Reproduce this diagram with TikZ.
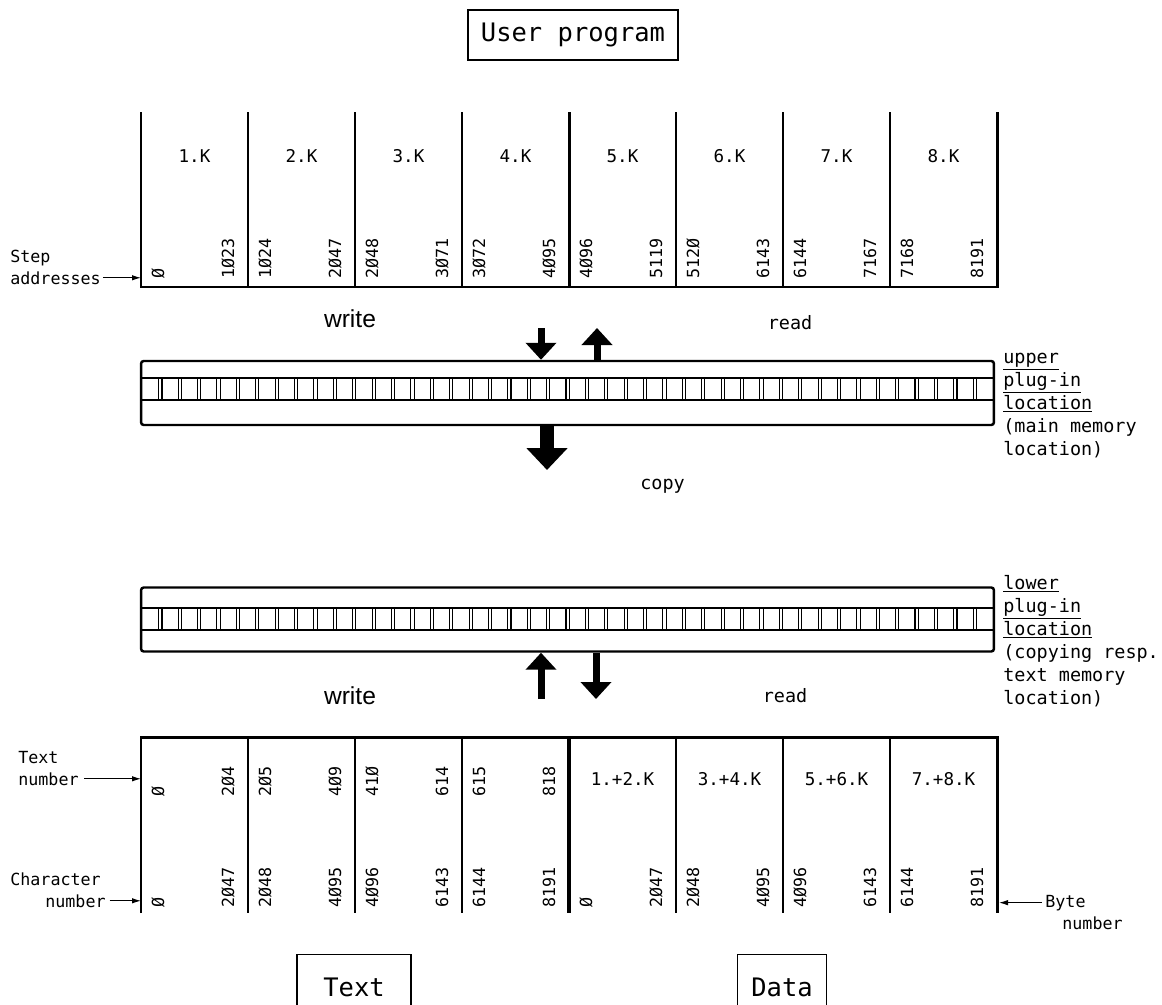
\documentclass[tikz,border=0pt]{standalone}
\usepackage{fontspec}
\setmainfont{Liberation Sans}
\newfontfamily\monofam{DejaVu Sans Mono}
\usetikzlibrary{arrows.meta,positioning}

\begin{document}
\begin{tikzpicture}[x=0.02cm,y=-0.02cm,
    every node/.style={inner sep=0pt},
    tiny/.style={font=\monofam\fontsize{9.5}{12}\selectfont},
    blk/.style={font=\monofam\fontsize{10}{12}\selectfont},
    side/.style={font=\monofam\fontsize{10.5}{13}\selectfont, anchor=base west},
    addr/.style={tiny, rotate=90, anchor=west},
    frame/.style={draw, line width=0.8pt, font=\monofam\fontsize{14.5}{17}\selectfont},
    sans/.style={font=\fontsize{14}{16}\selectfont, anchor=base},
    wall/.style={line width=1.7pt},
    divider/.style={line width=1.3pt},
    strip/.style={draw, line width=1.4pt, rounded corners=1.5pt, minimum width=17.06cm, minimum height=1.28cm},
    pin/.style={line width=0.6pt},
    fat/.style={line width=1.4mm, -{Triangle[width=6mm,length=3.4mm]}},
    fatter/.style={line width=2.8mm, -{Triangle[width=8mm,length=4.4mm]}},
    pointer/.style={line width=0.6pt, -{Latex[length=1.8mm,width=1.1mm]}}
]
\useasboundingbox (0,0) rectangle (1162,1004);
\coordinate (leftedge) at (141,0);
\coordinate (rightedge) at (999,0);

% User program
\node[frame, minimum width=4.2cm, minimum height=1cm] (user) at (573,35) {User program};

% Upper table: 8 blocks of 1K steps
\foreach \x in {248,355,462,676,783,890} \draw[divider] (\x,112) -- (\x,287);
\draw[wall] (141,112) -- (141,287) -- (997,287) -- (997,112);
\draw[wall] (569,112) -- (569,287);
\foreach \k in {1,...,8} \node[blk] (kb\k) at ({141+107*(\k-0.5)},156) {\k.K};
\foreach \lo/\hi [count=\k] in {Ø/1Ø23,1Ø24/2Ø47,2Ø48/3Ø71,3Ø72/4Ø95,4Ø96/5119,512Ø/6143,6144/7167,7168/8191} {
  \node[addr] (sa\k) at ({141+107*(\k-1)+17},279) {\lo};
  \node[addr] (se\k) at ({141+107*\k-20},279) {\hi};
}

% Step addresses
\node[tiny, anchor=base west] (step1) at (10,262) {Step};
\node[tiny, anchor=base west] (step2) at (10,284) {addresses};
\draw[pointer] ([xshift=1pt]step2.east) -- (step2.east -| leftedge);

% write / read into the upper location
\node[sans] (wr1) at (350,327) {write};
\node[side, anchor=base] (rd1) at (790,329) {read};
\coordinate (wrin) at (541,328);
\coordinate (rdout) at (597,328);

% Upper plug-in location
\node[strip] (upper) at (567.5,393) {};
\draw[pin] (141,378) -- (994,378) (141,400) -- (994,400);
\foreach \c in {1,...,43} \draw[pin] ({141+19.39*\c-1.6},378) -- +(0,22) ({141+19.39*\c+1.6},378) -- +(0,22);
\draw[fat] (wrin) -- (wrin |- upper.north);
\draw[fat] (rdout |- upper.north) -- (rdout);
\foreach \t [count=\n] in {\underline{upper},\underline{plug-in},\underline{location},{(main memory},{location)}}
  \node[side] (ulab\n) at (1003,{340+23*\n}) {\t};

% copy
\coordinate (cp) at (547,470);
\draw[fatter] (upper.south -| cp) -- (cp);
\node[side] (copy) at (640,489) {copy};

% Lower plug-in location
\node[strip] (lower) at (567.5,619.5) {};
\draw[pin] (141,608) -- (994,608) (141,630) -- (994,630);
\foreach \c in {1,...,43} \draw[pin] ({141+19.39*\c-1.6},608) -- +(0,22) ({141+19.39*\c+1.6},608) -- +(0,22);
\foreach \t [count=\n] in {\underline{lower},\underline{plug-in},\underline{location},{(copying resp.},{text memory},{location)}}
  \node[side] (llab\n) at (1003,{566+23*\n}) {\t};

% write / read out of the lower location
\coordinate (wrout) at (541,699);
\coordinate (rdin) at (596,699);
\draw[fat] (wrout) -- (wrout |- lower.south);
\draw[fat] (rdin |- lower.south) -- (rdin);
\node[sans] (wr2) at (350,704) {write};
\node[side, anchor=base] (rd2) at (785,702) {read};

% Lower table: text and data memory
\draw[wall] (141,913) -- (141,737) -- (997,737) -- (997,913);
\draw[line width=2.8pt] (569,737) -- (569,913);
\foreach \x in {248,355,462,676,783,890} \draw[divider] (\x,737) -- (\x,913);
\foreach \lo/\hi [count=\k] in {Ø/2Ø4,2Ø5/4Ø9,41Ø/614,615/818} {
  \node[addr] (ta\k) at ({141+107*(\k-1)+17},797) {\lo};
  \node[addr] (te\k) at ({141+107*\k-20},797) {\hi};
}
\foreach \a/\b [count=\k] in {1/2,3/4,5/6,7/8} \node[blk] (db\k) at ({569+107*(\k-0.5)},779) {\a.+\b.K};
\foreach \lo/\hi [count=\k] in {Ø/2Ø47,2Ø48/4Ø95,4Ø96/6143,6144/8191,Ø/2Ø47,2Ø48/4Ø95,4Ø96/6143,6144/8191} {
  \node[addr] (ca\k) at ({141+107*(\k-1)+17},908) {\lo};
  \node[addr] (ce\k) at ({141+107*\k-20},908) {\hi};
}

% Text number / Character number / Byte number
\node[tiny, anchor=base west] (txt1) at (18,763) {Text};
\node[tiny, anchor=base west] (txt2) at (18,785) {number};
\draw[pointer] ([xshift=3pt]txt2.east) -- (txt2.east -| leftedge);
\node[tiny, anchor=base west] (chr1) at (10,885) {Character};
\node[tiny, anchor=base west] (chr2) at (45,907) {number};
\draw[pointer] ([xshift=2pt]chr2.east) -- (chr2.east -| leftedge);
\node[tiny, anchor=base west] (byte1) at (1045,907) {Byte};
\node[tiny, anchor=base west] (byte2) at (1062,929) {number};
\draw[pointer] ([xshift=-2pt]byte1.west) -- (byte1.west -| rightedge);

% Text and Data
\node[frame, minimum width=2.28cm, minimum height=1.3cm] (textbox) at (354,987) {Text};
\node[frame, minimum width=1.78cm, minimum height=1.3cm] (databox) at (782,987) {Data};
\end{tikzpicture}
\end{document}
